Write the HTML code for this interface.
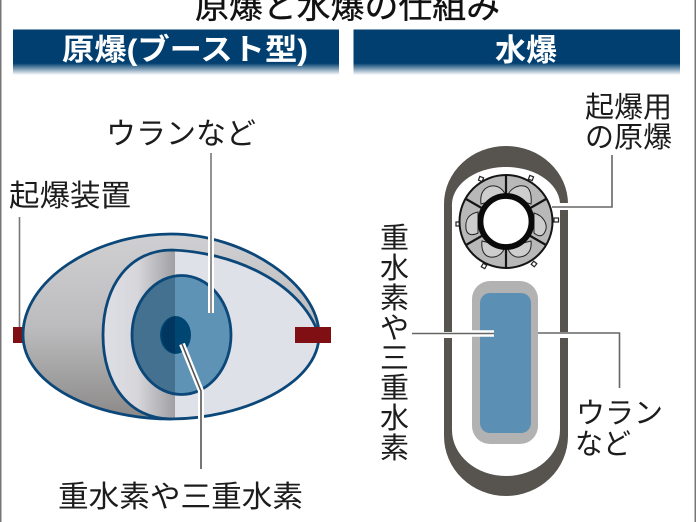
<!DOCTYPE html>
<html lang="ja"><head><meta charset="utf-8"><style>
html,body{margin:0;padding:0;background:#fff}
svg{display:block}
text{font-family:"Liberation Sans","Noto Sans CJK JP",sans-serif;fill:#1c1c1c}
</style></head><body>
<svg width="696" height="522" viewBox="0 0 696 522" xmlns="http://www.w3.org/2000/svg">
<defs>
<linearGradient id="hd" x1="0" y1="0" x2="0" y2="1"><stop offset="0" stop-color="#003f6f"/><stop offset=".74" stop-color="#003f6f"/><stop offset="1" stop-color="#fff"/></linearGradient>
<linearGradient id="og" x1="0" y1="0" x2="0" y2="1"><stop offset="0" stop-color="#d0d0d3"/><stop offset=".5" stop-color="#bcbcbe"/><stop offset="1" stop-color="#8b8988"/></linearGradient>
<linearGradient id="sh" x1="0" y1="0" x2="1" y2="0"><stop offset="0" stop-color="#dfe0e6"/><stop offset=".5" stop-color="#d6d6db"/><stop offset="1" stop-color="#a09fa2"/></linearGradient>
<clipPath id="inner"><path d="M103,335C103,285 130,250 172,250C230,252 300,280 319,335C319,385 240,419 171,419C130,419 103,385 103,335Z"/></clipPath>
<clipPath id="blue"><ellipse cx="181.500" cy="335" rx="49.500" ry="59.500"/></clipPath>
</defs>
<rect width="696" height="522" fill="#fff"/>
<rect x="0" y="0" width="1.500" height="522" fill="#777"/>
<rect x="694.500" y="0" width="1.500" height="522" fill="#777"/>

<text x="195" y="18" font-size="33" textLength="305" lengthAdjust="spacingAndGlyphs" style="fill:#111;stroke:#111;stroke-width:.35">原爆と水爆の仕組み</text>

<rect x="13" y="29.500" width="326" height="45.500" fill="url(#hd)"/>
<rect x="353.500" y="29.500" width="326.500" height="45.500" fill="url(#hd)"/>
<text x="62" y="60" font-size="30" font-weight="700" style="fill:#fff" textLength="246" lengthAdjust="spacingAndGlyphs">原爆(ブースト型)</text>
<text x="495" y="61" font-size="31" font-weight="700" style="fill:#fff" textLength="62" lengthAdjust="spacingAndGlyphs">水爆</text>

<!-- left diagram -->
<rect x="13" y="327" width="11" height="16" fill="#7f0f12"/>
<path d="M23,335C23,280 95,234 171,234C245,234 319,285 319,335C319,385 240,419 171,419C95,419 23,385 23,335Z" fill="url(#og)"/>
<g clip-path="url(#inner)">
<rect x="100" y="245" width="75" height="180" fill="url(#sh)"/>
<rect x="175" y="245" width="150" height="180" fill="#dfe1e8"/>
</g>
<path d="M23,335C23,280 95,234 171,234C245,234 319,285 319,335C319,385 240,419 171,419C95,419 23,385 23,335Z" fill="none" stroke="#0b4778" stroke-width="2.800"/>
<path d="M319,335C300,280 230,252 172,250C130,250 103,285 103,335C103,385 130,419 171,419" fill="none" stroke="#0b4778" stroke-width="2.800"/>
<ellipse cx="181.500" cy="335" rx="49.500" ry="59.500" fill="#5f93b5"/>
<g clip-path="url(#blue)"><rect x="130" y="270" width="45" height="130" fill="#44718f"/></g>
<ellipse cx="181.500" cy="335" rx="49.500" ry="59.500" fill="none" stroke="#0b4778" stroke-width="2.800"/>
<ellipse cx="175.500" cy="335" rx="15.500" ry="19" fill="#004673"/>
<path d="M175,316.200A15.500,19 0 0 0 175,353.800Z" fill="#00365f"/>
<rect x="295" y="327" width="36" height="16" fill="#7f0f12"/>

<path d="M19.500,217V327" stroke="#777" stroke-width="1.600" fill="none"/>
<path d="M211,234V313" stroke="#fff" stroke-width="6" fill="none"/>
<path d="M211,153V313" stroke="#777" stroke-width="1.600" fill="none"/>
<path d="M182,344L201,391V419" stroke="#fff" stroke-width="6" fill="none"/>
<path d="M182,344L201,391V469" stroke="#555" stroke-width="1.600" fill="none"/>

<text x="106" y="144" font-size="30" textLength="150" lengthAdjust="spacingAndGlyphs">ウランなど</text>
<text x="9" y="206" font-size="30" textLength="122" lengthAdjust="spacingAndGlyphs">起爆装置</text>
<text x="58" y="507" font-size="30" textLength="245" lengthAdjust="spacingAndGlyphs">重水素や三重水素</text>

<!-- right diagram: capsule -->
<path d="M444,332V204A62,58 0 0 1 568,204V203H560A54,38 0 0 0 452,207V332Z" fill="#57534e"/>
<rect x="560" y="210" width="8" height="122" fill="#57534e"/>
<path d="M444,338V436A62,60 0 0 0 568,436V338H560V430A54,46 0 0 1 452,430V338Z" fill="#57534e"/>

<!-- ring -->
<g stroke="#222" stroke-width="1.200" fill="#fff">
<rect x="479" y="177" width="4" height="4" transform="rotate(20 481 179)"/>
<rect x="529" y="176" width="4" height="4" transform="rotate(20 531 178)"/>
<rect x="456" y="222" width="4" height="4"/>
<rect x="554" y="218" width="4.500" height="4"/>
<rect x="482" y="264" width="4" height="4" transform="rotate(30 484 266)"/>
<rect x="532" y="262" width="4" height="4" transform="rotate(40 534 264)"/>
</g>
<circle cx="506" cy="221.500" r="46.500" fill="#b8b8b8" stroke="#151515" stroke-width="2"/>
<g fill="#cdcdcd" stroke="#222" stroke-width="1">
<path d="M481,204C479,188 490,185 495,186C501,187 505,192 506,197Z"/>
<path d="M507,197C510,188 518,185 524,186C530,187 532,195 531,204Z"/>
<path d="M534,213C544,216 547,224 546,229C544,236 540,238 534,233Z"/>
<path d="M531,241C532,250 528,256 520,257C513,258 509,252 507,247Z"/>
<path d="M505,247C503,253 498,258 490,257C484,256 481,250 482,241Z"/>
<path d="M478,233C472,236 467,235 466,229C465,220 468,214 478,212Z"/>
</g>
<g stroke="#151515" stroke-width="2.200" fill="none">
<path d="M506,176V268"/>
<path d="M466,199L546,245"/>
<path d="M466,245L546,199"/>
</g>
<circle cx="506" cy="221.500" r="25.500" fill="#fff" stroke="#0a0a0a" stroke-width="5.800"/>

<!-- core -->
<rect x="472" y="281" width="66" height="163" rx="18" fill="#b2b2b2"/>
<rect x="480" y="293" width="51" height="140" rx="10" fill="#5b8fb3"/>

<path d="M470,333.500H494" stroke="#fff" stroke-width="6.500" fill="none"/>
<path d="M412,333.500H494" stroke="#666" stroke-width="1.600" fill="none"/>
<path d="M538,333H619.500V388" stroke="#666" stroke-width="1.600" fill="none"/>
<path d="M552,207H612V155" stroke="#666" stroke-width="1.600" fill="none"/>

<text x="585" y="117" font-size="29" textLength="87" lengthAdjust="spacingAndGlyphs">起爆用</text>
<text x="585" y="147" font-size="29" textLength="87" lengthAdjust="spacingAndGlyphs">の原爆</text>
<text x="576" y="423" font-size="29" textLength="87" lengthAdjust="spacingAndGlyphs">ウラン</text>
<text x="575" y="454" font-size="29" textLength="56" lengthAdjust="spacingAndGlyphs">など</text>

<g font-size="29" text-anchor="middle">
<text x="394.500" y="248">重</text>
<text x="394.500" y="278">水</text>
<text x="394.500" y="308">素</text>
<text x="394.500" y="338">や</text>
<text x="394.500" y="368">三</text>
<text x="394.500" y="398">重</text>
<text x="394.500" y="428">水</text>
<text x="394.500" y="458">素</text>
</g>
</svg>
</body></html>
